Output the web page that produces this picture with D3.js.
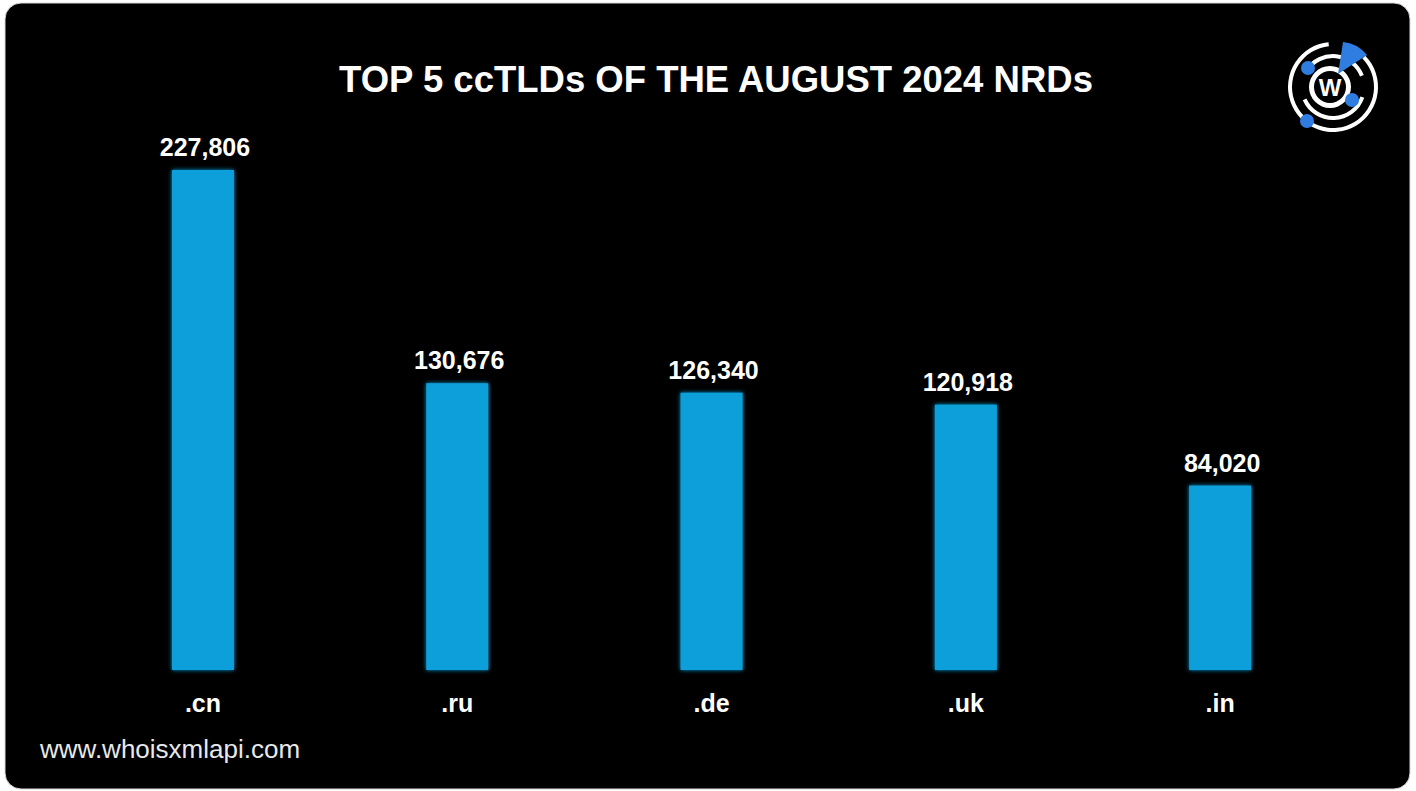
<!DOCTYPE html>
<html>
<head>
<meta charset="utf-8">
<script src="https://cdn.jsdelivr.net/npm/d3@7"></script>
<style>
html,body{margin:0;padding:0;background:#ffffff;}
svg{display:block;}
</style>
</head>
<body>
<svg id="chart" width="1416" height="791"></svg>
<script>
const categories = [".cn", ".ru", ".de", ".uk", ".in"];
const values = [227806, 130676, 126340, 120918, 84020];
const titleText = "TOP 5 ccTLDs OF THE AUGUST 2024 NRDs";
const footerText = "www.whoisxmlapi.com";

const svg = d3.select("#chart");
const font = "'Liberation Sans', Arial, Helvetica, sans-serif";

// card
svg.append("rect").attr("x", 5).attr("y", 3).attr("width", 1405).attr("height", 786)
  .attr("rx", 16).attr("fill", "#000").attr("stroke", "#d8d8d8").attr("stroke-width", 1);

const defs = svg.append("defs");
const glow = defs.append("filter").attr("id", "glow").attr("x", "-20%").attr("y", "-5%").attr("width", "140%").attr("height", "110%");
glow.append("feGaussianBlur").attr("in", "SourceGraphic").attr("stdDeviation", 2).attr("result", "b");
const m = glow.append("feMerge");
m.append("feMergeNode").attr("in", "b");
m.append("feMergeNode").attr("in", "SourceGraphic");

const x = d3.scaleBand().domain(categories).range([75.8, 75.8 + 5 * 254.3]).paddingInner(0.756).paddingOuter(0.378);
const y = d3.scaleLinear().domain([0, d3.max(values)]).range([670, 170]);
const barW = 62;

const data = categories.map((c, i) => ({c, v: values[i]}));

svg.append("g").selectAll("rect").data(data).join("rect")
  .attr("x", d => x(d.c) + x.bandwidth() / 2 - barW / 2)
  .attr("y", d => y(d.v))
  .attr("width", barW)
  .attr("height", d => y(0) - y(d.v))
  .attr("fill", "#119fda")
  .attr("filter", "url(#glow)");

const fmt = d3.format(",");
svg.append("g").selectAll("text").data(data).join("text")
  .attr("x", d => x(d.c) + x.bandwidth() / 2 + 2)
  .attr("y", d => y(d.v) - 14)
  .attr("text-anchor", "middle")
  .attr("font-family", font).attr("font-weight", "bold").attr("font-size", 25)
  .attr("fill", "#fff")
  .text(d => fmt(d.v));

// category axis labels
const xAxis = d3.axisBottom(x).tickSize(0).tickPadding(0);
const gx = svg.append("g").attr("transform", "translate(0,692)").call(xAxis);
gx.select(".domain").remove();
gx.selectAll("text").attr("font-family", font).attr("font-weight", "bold").attr("font-size", 25)
  .attr("fill", "#fff").attr("dy", "0.8em");

// title
svg.append("text").attr("x", 716).attr("y", 92).attr("text-anchor", "middle")
  .attr("font-family", font).attr("font-weight", "bold").attr("font-size", 36.5)
  .attr("fill", "#fff").text(titleText);

// footer
svg.append("text").attr("x", 40).attr("y", 758)
  .attr("font-family", font).attr("font-size", 26).attr("fill", "#e8e8e8").text(footerText);

// logo
const lg = svg.append("g").attr("transform", "translate(1333,87)");
const arc = d3.arc();
lg.append("path").attr("d", arc({innerRadius: 41, outerRadius: 45, startAngle: 0.8, endAngle: 2 * Math.PI - 0.1}))
  .attr("fill", "#fff");
lg.append("path").attr("d", arc({innerRadius: 29, outerRadius: 33, startAngle: -1.0, endAngle: 1.2}))
  .attr("fill", "#fff");
lg.append("path").attr("d", arc({innerRadius: 29, outerRadius: 33, startAngle: 1.9, endAngle: 4.3}))
  .attr("fill", "#fff");
lg.append("path").attr("d", arc({innerRadius: 16, outerRadius: 21, startAngle: 0, endAngle: 2 * Math.PI}))
  .attr("fill", "#fff").attr("transform", "translate(-3,0)");
lg.append("path").attr("d", "M5,-13 L10,-45 Q24,-44 34,-32 Z").attr("fill", "#2f7de1");
[[-25, -19], [19, 13], [-26, 34]].forEach(p => {
  lg.append("circle").attr("cx", p[0]).attr("cy", p[1]).attr("r", 7).attr("fill", "#2f7de1");
});
lg.append("text").attr("x", -3).attr("y", 9).attr("text-anchor", "middle")
  .attr("font-family", font).attr("font-weight", "bold").attr("font-size", 24).attr("fill", "#fff").text("W");
</script>
</body>
</html>
